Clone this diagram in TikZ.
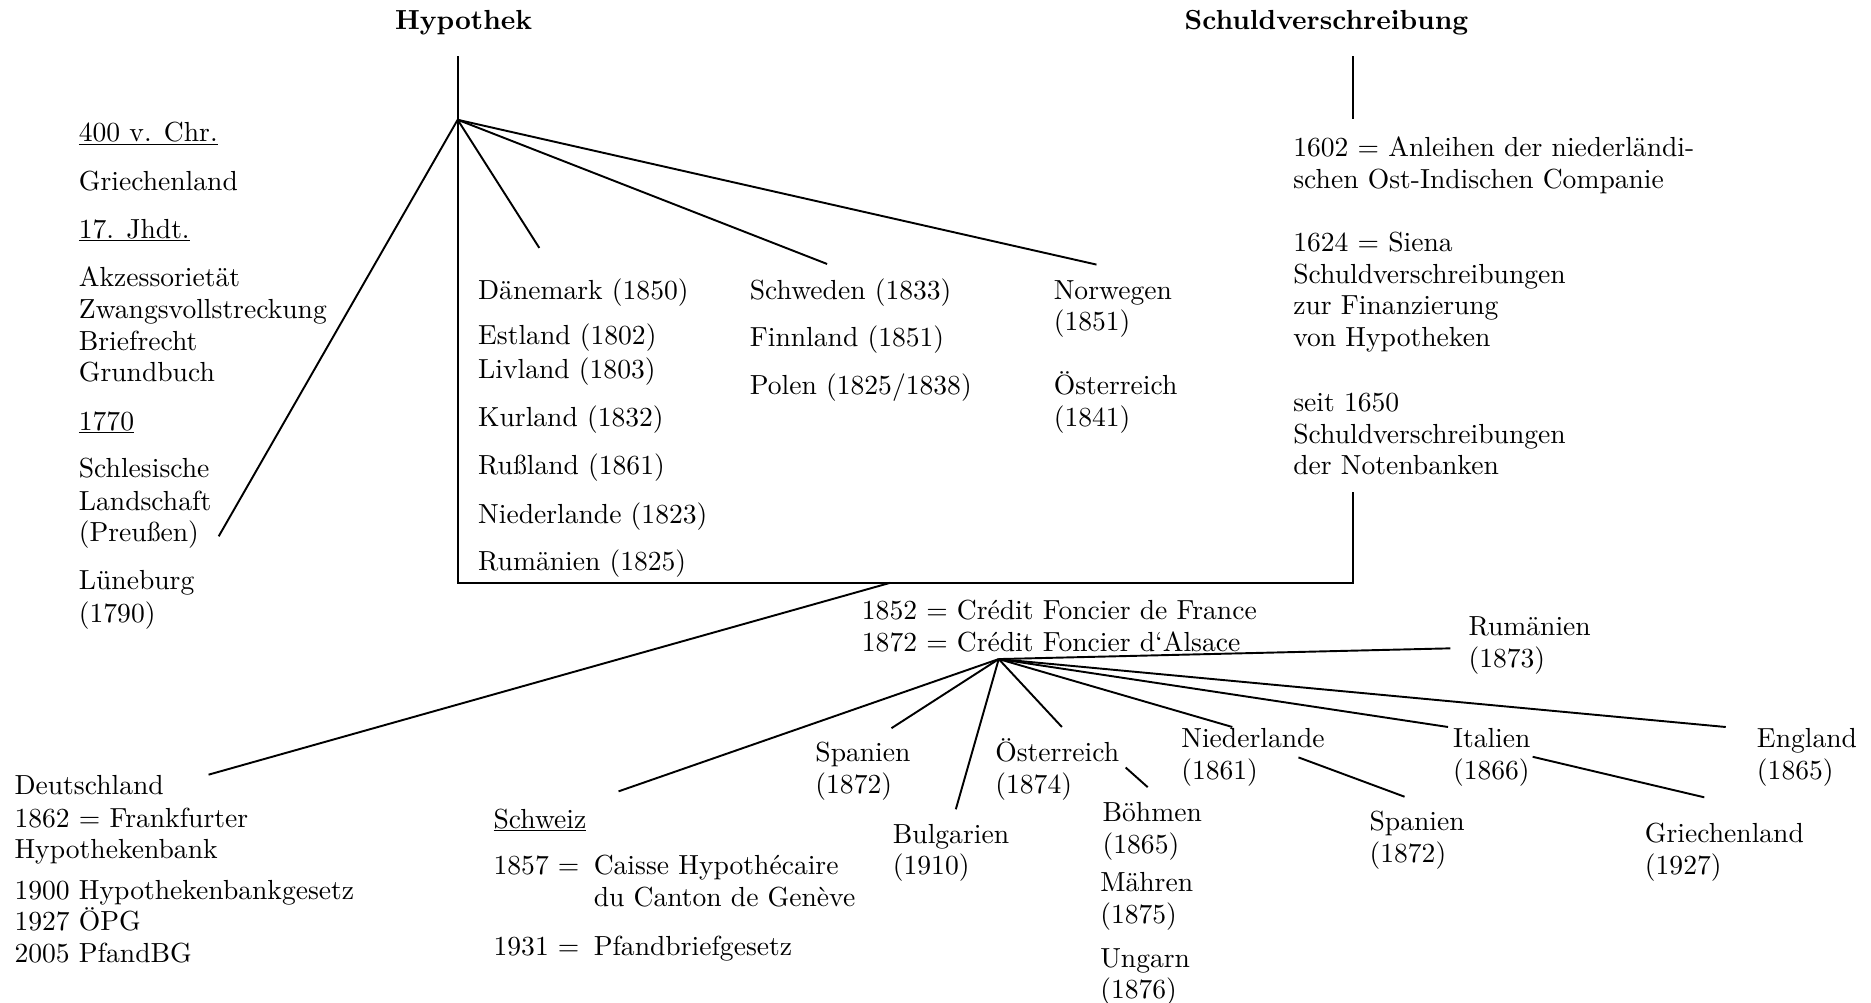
\documentclass[tikz,border=0pt]{standalone}
\usepackage{fontspec}
\setmainfont{lmroman10-regular}[Extension=.otf,BoldFont=lmroman10-bold]
\begin{document}
\begin{tikzpicture}[x=0.9937pt,y=-0.9937pt,
  tx/.style={inner sep=0pt,anchor=base west,font=\fontsize{23}{27}\selectfont},
  tb/.style={inner sep=0pt,anchor=base,font=\fontsize{23}{27}\selectfont\bfseries},
  ln/.style={line width=1.6pt,line cap=butt}]
\useasboundingbox (0,0) rectangle (1569.89,841.58);
\newcommand\txtnode[4]{\node[tx] (#1) at (#2,#3+7) {#4};}
% titles
\node[tb] (hyp) at (389,25) {Hypothek};
\node[tb] (sch) at (1113,25) {Schuldverschreibung};
% left column
\txtnode{a1}{66}{112}{\underline{400 v. Chr.}}
\txtnode{a2}{66}{153}{Griechenland}
\txtnode{a3}{66}{193}{\underline{17. Jhdt.}}
\txtnode{a4}{66}{233}{Akzessorietät}
\txtnode{a5}{66}{260}{Zwangsvollstreckung}
\txtnode{a6}{66}{287}{Briefrecht}
\txtnode{a7}{66}{313}{Grundbuch}
\txtnode{a8}{66}{354}{\underline{1770}}
\txtnode{a9}{66}{394}{Schlesische}
\txtnode{a10}{66}{421}{Landschaft}
\txtnode{a11}{66}{447}{(Preußen)}
\txtnode{a12}{66}{488}{Lüneburg}
\txtnode{a13}{66}{515}{(1790)}
% column 2
\txtnode{b1}{401}{244}{Dänemark (1850)}
\txtnode{b2}{401}{282}{Estland (1802)}
\txtnode{b3}{401}{311}{Livland (1803)}
\txtnode{b4}{401}{351}{Kurland (1832)}
\txtnode{b5}{401}{391}{Rußland (1861)}
\txtnode{b6}{401}{432}{Niederlande (1823)}
\txtnode{b7}{401}{472}{Rumänien (1825)}
% column 3
\txtnode{c1}{629}{244}{Schweden (1833)}
\txtnode{c2}{629}{284}{Finnland (1851)}
\txtnode{c3}{629}{324}{Polen (1825/1838)}
% column 4
\txtnode{d1}{884}{244}{Norwegen}
\txtnode{d2}{884}{270}{(1851)}
\txtnode{d3}{884}{324}{Österreich}
\txtnode{d4}{884}{351}{(1841)}
% right column
\txtnode{r1}{1085}{124}{1602 = Anleihen der niederländi-}
\txtnode{r2}{1085}{151}{schen Ost-Indischen Companie}
\txtnode{r3}{1085}{204}{1624 = Siena}
\txtnode{r4}{1085}{231}{Schuldverschreibungen}
\txtnode{r5}{1085}{257}{zur Finanzierung}
\txtnode{r6}{1085}{284}{von Hypotheken}
\txtnode{r7}{1085}{338}{seit 1650}
\txtnode{r8}{1085}{365}{Schuldverschreibungen}
\txtnode{r9}{1085}{391}{der Notenbanken}
% centre
\txtnode{f1}{723}{513}{1852 = Crédit Foncier de France}
\txtnode{f2}{723}{540}{1872 = Crédit Foncier d‘Alsace}
% lower left
\txtnode{g1}{12}{660}{Deutschland}
\txtnode{g2}{12}{687}{1862 = Frankfurter}
\txtnode{g3}{12}{713}{Hypothekenbank}
\txtnode{g4}{12}{748}{1900 Hypothekenbankgesetz}
\txtnode{g5}{12}{774}{1927 ÖPG}
\txtnode{g6}{12}{801}{2005 PfandBG}
% Schweiz
\txtnode{s1}{414}{688}{\underline{Schweiz}}
\txtnode{s2}{414}{727}{1857 =}
\txtnode{s3}{498}{727}{Caisse Hypothécaire}
\txtnode{s4}{498}{754}{du Canton de Genève}
\txtnode{s5}{414}{795}{1931 =}
\txtnode{s6}{498}{795}{Pfandbriefgesetz}
% lower countries
\txtnode{k1}{684}{632}{Spanien}
\txtnode{k2}{684}{659}{(1872)}
\txtnode{k3}{749}{701}{Bulgarien}
\txtnode{k4}{749}{727}{(1910)}
\txtnode{k5}{835}{632}{Österreich}
\txtnode{k6}{835}{659}{(1874)}
\txtnode{k7}{925}{682}{Böhmen}
\txtnode{k8}{925}{709}{(1865)}
\txtnode{k9}{923}{741}{Mähren}
\txtnode{k10}{923}{768}{(1875)}
\txtnode{k11}{923}{805}{Ungarn}
\txtnode{k12}{923}{831}{(1876)}
\txtnode{k13}{991}{620}{Niederlande}
\txtnode{k14}{991}{647}{(1861)}
\txtnode{k15}{1232}{526}{Rumänien}
\txtnode{k16}{1232}{553}{(1873)}
\txtnode{k17}{1219}{620}{Italien}
\txtnode{k18}{1219}{647}{(1866)}
\txtnode{k19}{1474}{620}{England}
\txtnode{k20}{1474}{647}{(1865)}
\txtnode{k21}{1149}{690}{Spanien}
\txtnode{k22}{1149}{717}{(1872)}
\txtnode{k23}{1380}{700}{Griechenland}
\txtnode{k24}{1380}{727}{(1927)}
% coordinates
\coordinate (hT) at (384,47);
\coordinate (H) at (384,100.5);
\coordinate (bl) at (384,489);
\coordinate (br) at (1135,489);
\coordinate (sB) at (1135,413);
\coordinate (sT) at (1135,47);
\coordinate (sH) at (1135,100);
\coordinate (e1) at (183.5,450);
\coordinate (e2) at (452.5,208);
\coordinate (e3) at (694,221.5);
\coordinate (e4) at (920,222);
\coordinate (dA) at (747,489);
\coordinate (dB) at (175,650);
\coordinate (C) at (838,553);
\coordinate (c1) at (519,664);
\coordinate (c2) at (748,611);
\coordinate (c3) at (802,679);
\coordinate (c4) at (891,610);
\coordinate (c5) at (1034,610);
\coordinate (c6) at (1215,610);
\coordinate (c7) at (1448,610);
\coordinate (c8) at (1217,544);
\coordinate (o1) at (944.5,644);
\coordinate (o2) at (963,660.5);
\coordinate (n1) at (1089.5,635.5);
\coordinate (n2) at (1178.5,668.5);
\coordinate (i1) at (1286,635);
\coordinate (i2) at (1430,669);
% connectors
\draw[ln] (hT) -- (H) -- (bl) -- (br) -- (sB);
\draw[ln] (sT) -- (sH);
\foreach \e in {e1,e2,e3,e4} \draw[ln] (H) -- (\e);
\draw[ln] (dA) -- (dB);
\foreach \e in {c1,c2,c3,c4,c5,c6,c7,c8} \draw[ln] (C) -- (\e);
\draw[ln] (o1) -- (o2);
\draw[ln] (n1) -- (n2);
\draw[ln] (i1) -- (i2);
\end{tikzpicture}
\end{document}
